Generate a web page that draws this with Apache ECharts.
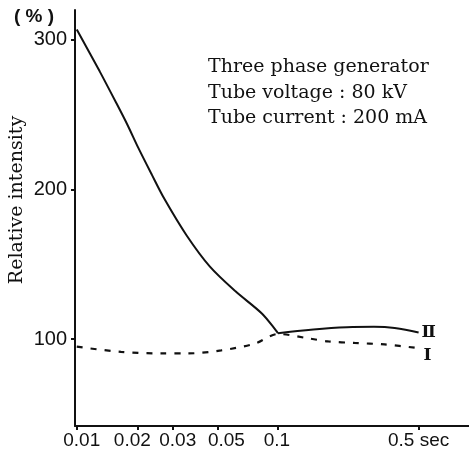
<!DOCTYPE html>
<html>
<head>
<meta charset="utf-8">
<script src="https://cdn.jsdelivr.net/npm/echarts@6/dist/echarts.min.js"></script>
<style>
  html, body { margin: 0; padding: 0; background: #fff; }
  #chart { width: 469px; height: 455px; }
</style>
</head>
<body>
<div id="chart"></div>
<script>
// x: exposure time (sec), log axis
const xTicks = [0.01, 0.02, 0.03, 0.05, 0.1, 0.5];
const xTickLabels = ['0.01', '0.02', '0.03', '0.05', '0.1', '0.5 sec'];
const yTicks = [100, 200, 300];

// curve II (solid), falling part up to 0.1 sec
const curve2aX = [0.01, 0.013, 0.0157, 0.0179, 0.0202, 0.0236, 0.0272, 0.0351, 0.0459, 0.0615, 0.0834, 0.1];
const curve2aY = [307, 279, 258, 243, 228, 210, 194, 169.5, 148.5, 132, 117, 104];
// curve II, flat part after 0.1 sec
const curve2bX = [0.1, 0.15, 0.22, 0.3, 0.38, 0.5];
const curve2bY = [104, 106.5, 108, 108.3, 107.5, 104.5];
// curve I (dashed)
const curve1X = [0.01, 0.0166, 0.0263, 0.0358, 0.0522, 0.0765, 0.1, 0.143, 0.178, 0.24, 0.339, 0.5];
const curve1Y = [95, 91.5, 90.5, 90.5, 92.5, 97, 103.5, 100.5, 98.5, 97.5, 96.5, 94];

const ink = '#111';
const serif = 'DejaVu Serif';
const sans = 'Liberation Sans';
// small nudges of the printed tick labels (px), as in the scanned figure
const labelShift = [5, -5, 5, 9, -1, 0];

function pairs(xs, ys) {
  return xs.map((x, i) => [x, ys[i]]);
}

const xRich = {};
labelShift.forEach((s, i) => {
  xRich['s' + i] = {
    fontFamily: sans, fontSize: 19, color: ink,
    padding: s >= 0 ? [0, 0, 0, 2 * s] : [0, -2 * s, 0, 0]
  };
});

const chart = echarts.init(document.getElementById('chart'));

chart.setOption({
  animation: false,
  backgroundColor: '#fff',
  grid: { left: 75, right: 0, top: 10, bottom: 29, containLabel: false },
  xAxis: {
    type: 'log',
    min: 0.0098,
    max: 0.89,
    splitLine: { show: false },
    axisLine: { show: true, lineStyle: { color: ink, width: 2 } },
    axisTick: { show: true, customValues: xTicks, length: 4, lineStyle: { color: ink, width: 2 } },
    axisLabel: {
      customValues: xTicks,
      color: ink,
      fontFamily: sans,
      fontSize: 19,
      margin: 5,
      rich: xRich,
      formatter: function (v) {
        const i = xTicks.findIndex(t => Math.abs(t - v) < 1e-6);
        return i >= 0 ? '{s' + i + '|' + xTickLabels[i] + '}' : '';
      }
    }
  },
  yAxis: {
    type: 'value',
    min: 42,
    max: 320,
    splitLine: { show: false },
    axisLine: { show: true, lineStyle: { color: ink, width: 2 } },
    axisTick: { show: true, customValues: yTicks, length: 4, lineStyle: { color: ink, width: 2 } },
    axisLabel: { customValues: yTicks, color: ink, fontFamily: sans, fontSize: 20, margin: 8 }
  },
  graphic: [
    { type: 'text', left: 14, top: 7, style: { text: '( % )', font: 'bold 19px ' + sans, fill: ink } },
    { type: 'text', x: 17, y: 200, rotation: Math.PI / 2,
      style: { text: 'Relative intensity', font: '19px "' + serif + '"', fill: ink, align: 'center', verticalAlign: 'middle' } },
    { type: 'text', x: 208, y: 67, style: { text: 'Three phase generator', font: '19px "' + serif + '"', fill: ink, verticalAlign: 'middle' } },
    { type: 'text', x: 208, y: 93, style: { text: 'Tube voltage : 80 kV', font: '19px "' + serif + '"', fill: ink, verticalAlign: 'middle' } },
    { type: 'text', x: 208, y: 118, style: { text: 'Tube current : 200 mA', font: '19px "' + serif + '"', fill: ink, verticalAlign: 'middle' } }
  ],
  series: [
    {
      type: 'line',
      data: pairs(curve2aX, curve2aY),
      smooth: 0.3,
      symbol: 'none',
      lineStyle: { color: ink, width: 2 }
    },
    {
      type: 'line',
      data: pairs(curve2bX, curve2bY),
      smooth: 0.4,
      symbol: 'none',
      lineStyle: { color: ink, width: 2 },
      endLabel: { show: true, formatter: 'Ⅱ', color: ink, fontFamily: serif, fontSize: 17, fontWeight: 'bold', distance: 3 }
    },
    {
      type: 'line',
      data: pairs(curve1X, curve1Y),
      smooth: 0.3,
      symbol: 'none',
      lineStyle: { color: ink, width: 2.2, type: [6, 8] },
      endLabel: { show: true, formatter: 'I', color: ink, fontFamily: serif, fontSize: 17, fontWeight: 'bold', distance: 5, offset: [0, 7] }
    }
  ]
});
</script>
</body>
</html>
